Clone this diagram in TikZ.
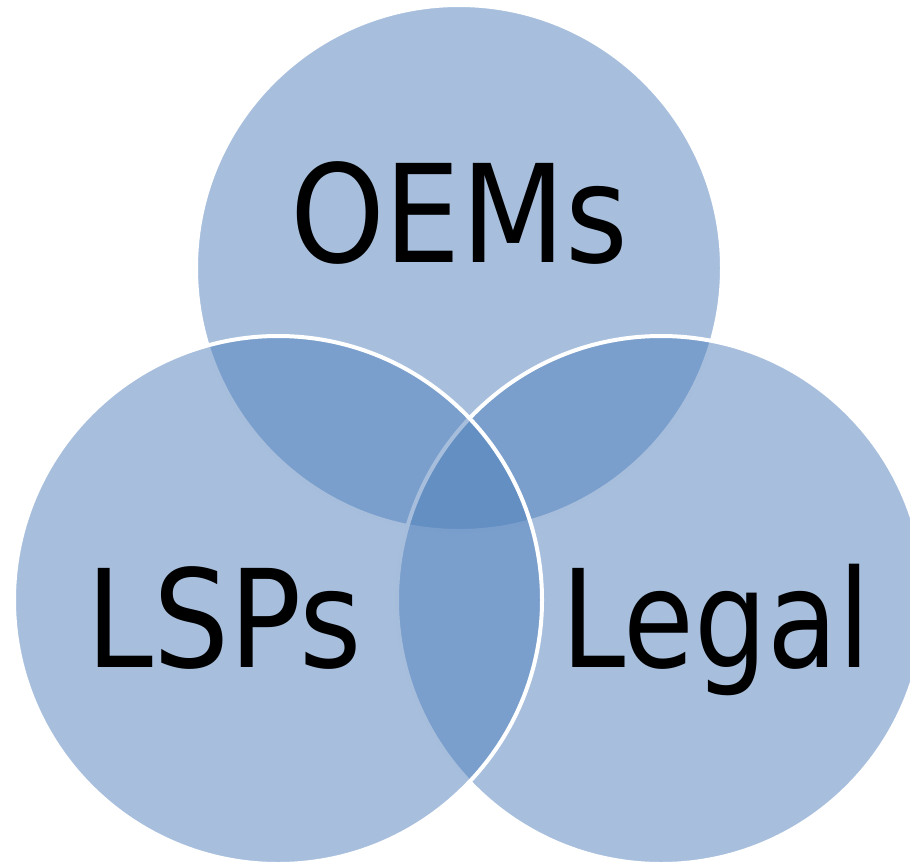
\documentclass[tikz,border=0pt]{standalone}
\usepackage{fontspec}
\setmainfont{DejaVu Sans Condensed}
\definecolor{accent}{RGB}{79,127,187}
\newcommand{\narrowtext}[2]{\scalebox{#1}[1]{#2}}
\begin{document}
\begin{tikzpicture}[x=1pt,y=-1pt,
  setcircle/.style={fill=accent, fill opacity=0.5, draw=white, draw opacity=1, line width=4pt},
  label/.style={anchor=base, inner sep=0pt, text=black, font=\fontsize{136}{136}\selectfont}]
\useasboundingbox (0,0) rectangle (910,865);
\clip (0,0) rectangle (910,865);
\draw[setcircle] (459,268) circle[radius=263];
\draw[setcircle] (661,600) circle[radius=264];
\draw[setcircle] (278,600) circle[radius=264];
\node[label] (oems) at (459,262) {\narrowtext{0.985}{OEMs}};
\node[label] (lsps) at (224.5,667) {\narrowtext{0.98}{LSPs}};
\node[label] (legal) at (716,667) {\narrowtext{0.94}{Legal}};
\end{tikzpicture}
\end{document}
